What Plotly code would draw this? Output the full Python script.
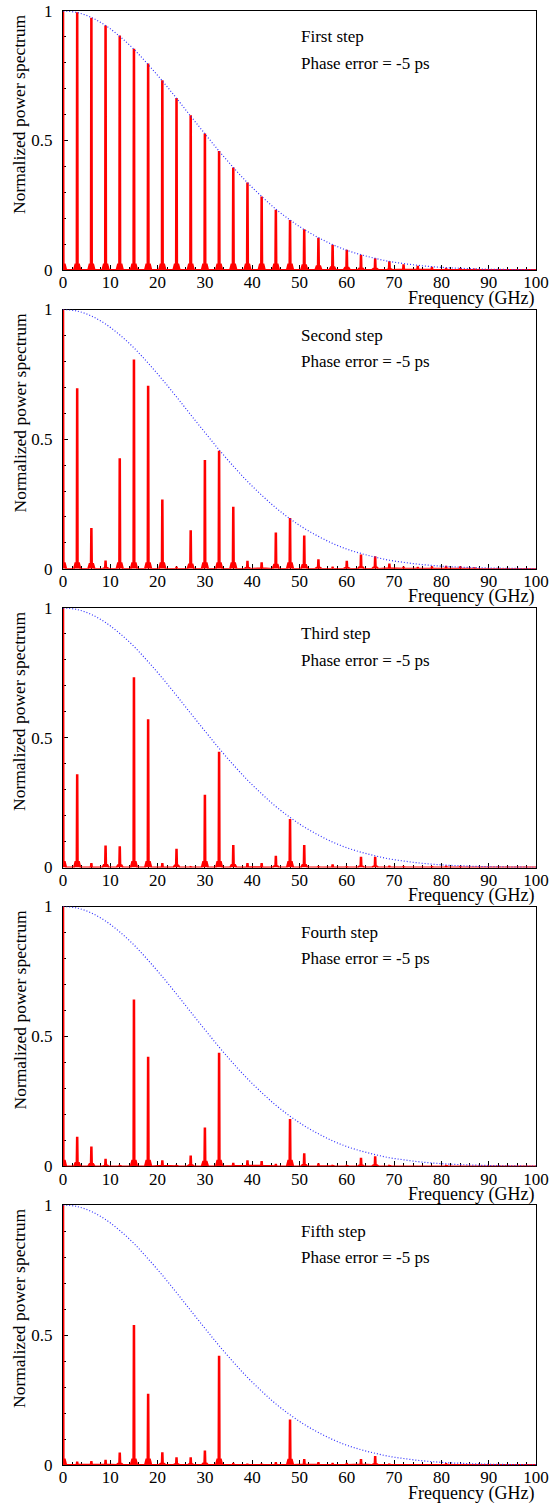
import plotly.graph_objects as go

# ---------------- data ----------------
freq = [0, 3, 6, 9, 12, 15, 18, 21, 24, 27, 30, 33, 36, 39, 42, 45, 48, 51,
        54, 57, 60, 63, 66, 69, 72, 75, 78, 81, 84, 87, 90, 93, 96, 99]

step1 = [1.0, 0.992, 0.970, 0.941, 0.902, 0.851, 0.794, 0.729, 0.661, 0.594,
         0.524, 0.456, 0.392, 0.334, 0.280, 0.229, 0.190, 0.154, 0.121, 0.094,
         0.075, 0.055, 0.042, 0.030, 0.019, 0.013, 0.009, 0.005, 0.004, 0.003,
         0.002, 0.002, 0.001, 0.001]
step2 = [1.0, 0.693, 0.154, 0.029, 0.423, 0.804, 0.702, 0.264, 0.005, 0.145,
         0.416, 0.452, 0.236, 0.028, 0.022, 0.137, 0.192, 0.125, 0.033, 0.005,
         0.028, 0.052, 0.045, 0.017, 0.005, 0.004, 0.006, 0.008, 0.006, 0.003,
         0.002, 0.002, 0.001, 0.001]
step3 = [1.0, 0.356, 0.014, 0.081, 0.078, 0.730, 0.568, 0.014, 0.069, 0.003,
         0.277, 0.443, 0.083, 0.014, 0.014, 0.042, 0.183, 0.083, 0.003, 0.009,
         0.003, 0.038, 0.038, 0.004, 0.003, 0.002, 0.003, 0.004, 0.003, 0.002,
         0.002, 0.001, 0.001, 0.001]
step4 = [1.0, 0.110, 0.073, 0.026, 0.003, 0.639, 0.418, 0.020, 0.003, 0.038,
         0.146, 0.434, 0.010, 0.020, 0.017, 0.006, 0.179, 0.047, 0.008, 0.003,
         0.003, 0.029, 0.035, 0.003, 0.002, 0.002, 0.002, 0.003, 0.002, 0.002,
         0.001, 0.001, 0.001, 0.001]
step5 = [1.0, 0.010, 0.012, 0.017, 0.045, 0.535, 0.271, 0.046, 0.026, 0.026,
         0.052, 0.417, 0.005, 0.003, 0.003, 0.008, 0.172, 0.020, 0.008, 0.005,
         0.005, 0.020, 0.031, 0.003, 0.002, 0.002, 0.002, 0.004, 0.002, 0.002,
         0.001, 0.001, 0.001, 0.001]

env_freq = [0, 3, 6, 9, 12, 15, 18, 21, 24, 27, 30, 33, 36, 39, 42, 45, 48, 51,
            54, 57, 60, 63, 66, 69, 72, 75, 78, 81, 84, 87, 90, 93, 96, 99, 100]
envelope = [1.000, 0.994, 0.975, 0.944, 0.902, 0.852, 0.793, 0.730, 0.663, 0.594,
            0.526, 0.459, 0.396, 0.337, 0.284, 0.235, 0.193, 0.156, 0.125, 0.098,
            0.076, 0.059, 0.045, 0.033, 0.025, 0.018, 0.013, 0.009, 0.0065, 0.0045,
            0.0031, 0.0021, 0.0014, 0.0009, 0.0008]

step_names = ["First step", "Second step", "Third step", "Fourth step", "Fifth step"]
phase_label = "Phase error = -5 ps"
x_title = "Frequency (GHz)"
y_title = "Normalized power spectrum"

spectra = [step1, step2, step3, step4, step5]

# ---------------- layout geometry (pixels) ----------------
W, H = 551, 1507
left_px, right_px = 63, 536
tops = [11, 309.5, 608, 906.5, 1205]
bots = [270, 568.8, 867.5, 1166.3, 1465]

FONT = "'Liberation Serif', 'Times New Roman', 'DejaVu Serif', serif"
RED = "#ff0000"
BLUE = "#3030ff"


def spikes(fs, hs):
    xs, ys = [], []
    for f, h in zip(fs, hs):
        s = min(0.022, 0.12 * h)
        xs += [f - 0.7, f - 0.4, f - 0.15, f - 0.08, f + 0.08, f + 0.15, f + 0.4, f + 0.7]
        ys += [0, s, s, h, h, s, s, 0]
    xs.append(100.5)
    ys.append(0)
    return xs, ys


fig = go.Figure()
annotations = []
for i, (spec, name) in enumerate(zip(spectra, step_names)):
    n = "" if i == 0 else str(i + 1)
    xs, ys = spikes(freq, spec)
    fig.add_trace(go.Scatter(x=xs, y=ys, mode="lines", fill="tozeroy",
                             fillcolor=RED, line=dict(color=RED, width=1.8),
                             xaxis="x" + n, yaxis="y" + n, showlegend=False,
                             hoverinfo="skip"))
    fig.add_trace(go.Scatter(x=env_freq, y=envelope, mode="lines", line_shape="spline",
                             line=dict(color=BLUE, width=1.2, dash="1px,2px"),
                             xaxis="x" + n, yaxis="y" + n, showlegend=False,
                             hoverinfo="skip"))
    ydom = [1 - bots[i] / H, 1 - tops[i] / H]
    axis_common = dict(showline=True, linecolor="black", linewidth=1, mirror=True,
                       showgrid=False, zeroline=False, ticks="inside",
                       tickcolor="black", automargin=False,
                       tickfont=dict(family=FONT, size=17, color="black"),
                       layer="below traces")
    fig.update_layout(**{
        "xaxis" + n: dict(domain=[left_px / W, right_px / W], range=[0, 100],
                          anchor="y" + n, tickmode="linear", tick0=0, dtick=10,
                          ticklen=5, ticklabelstandoff=-3,
                          minor=dict(dtick=2, tick0=0, ticks="inside", ticklen=3,
                                     tickcolor="black"),
                          **axis_common),
        "yaxis" + n: dict(domain=ydom, range=[0, 1], anchor="x" + n,
                          tickmode="linear", tick0=0, dtick=0.5, ticklen=5,
                          ticklabelstandoff=6,
                          minor=dict(dtick=0.1, tick0=0, ticks="inside", ticklen=3,
                                     tickcolor="black"),
                          **axis_common),
    })
    annotations += [
        dict(text=name, x=299 / W, y=1 - (tops[i] + 26) / H, xref="paper", yref="paper",
             xanchor="left", yanchor="middle", showarrow=False,
             font=dict(family=FONT, size=17, color="black")),
        dict(text=phase_label, x=299 / W, y=1 - (tops[i] + 52) / H, xref="paper",
             yref="paper", xanchor="left", yanchor="middle", showarrow=False,
             font=dict(family=FONT, size=17, color="black")),
        dict(text=y_title, x=19 / W, y=1 - (tops[i] + 1) / H, xref="paper", yref="paper",
             xanchor="center", yanchor="top", textangle=-90, showarrow=False,
             font=dict(family=FONT, size=17.5, color="black")),
        dict(text=x_title, x=right_px / W, y=1 - (bots[i] + 28) / H, xref="paper",
             yref="paper", xanchor="right", yanchor="middle", showarrow=False,
             font=dict(family=FONT, size=18, color="black")),
    ]

fig.update_layout(width=W, height=H, margin=dict(l=0, r=0, t=0, b=0, autoexpand=False),
                  paper_bgcolor="white", plot_bgcolor="white",
                  annotations=annotations, font=dict(family=FONT, color="black"))

fig.write_html("out.html")
